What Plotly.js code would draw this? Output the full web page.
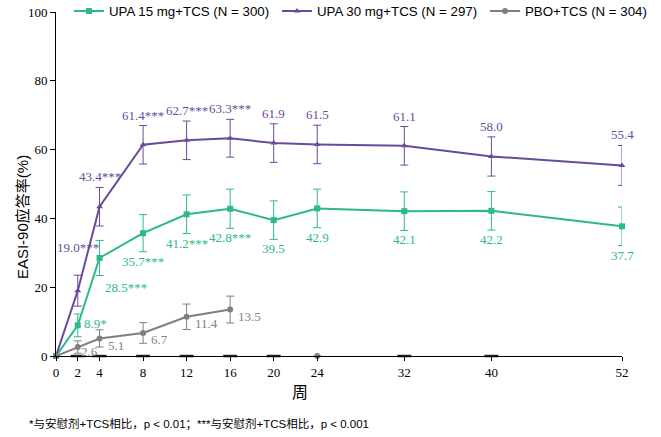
<!DOCTYPE html>
<html>
<head>
<meta charset="utf-8">
<script src="https://cdn.plot.ly/plotly-3.0.1.min.js"></script>
<style>html,body{margin:0;padding:0;background:#fff;}#chart{width:661px;height:437px;}</style>
</head>
<body>
<div id="chart"></div>
<script>
const weeks = [0, 2, 4, 8, 12, 16, 20, 24, 32, 40, 52];
const upa15 = [0, 8.9, 28.5, 35.7, 41.2, 42.8, 39.5, 42.9, 42.1, 42.2, 37.7];
const upa15Err = [0, 3.3, 5.1, 5.4, 5.6, 5.7, 5.6, 5.6, 5.6, 5.6, 5.6];
const upa15Labels = ["", "8.9*", "28.5***", "35.7***", "41.2***", "42.8***", "39.5", "42.9", "42.1", "42.2", "37.7"];
const upa30 = [0, 19.0, 43.4, 61.4, 62.7, 63.3, 61.9, 61.5, 61.1, 58.0, 55.4];
const upa30Err = [0, 4.5, 5.6, 5.6, 5.6, 5.5, 5.6, 5.6, 5.6, 5.7, 5.8];
const upa30Labels = ["", "19.0***", "43.4***", "61.4***", "62.7***", "63.3***", "61.9", "61.5", "61.1", "58.0", "55.4"];
const pboWeeks = [0, 2, 4, 8, 12, 16, 20, 24];
const pbo = [0, 2.6, 5.1, 6.7, 11.4, 13.5, null, 0];
const pboErr = [0, 1.8, 2.5, 3.0, 3.7, 3.9, 0, 0];
const pboLabels = ["", "2.6", "5.1", "6.7", "11.4", "13.5", "", ""];
const baselineMarkWeeks = [2, 4, 8, 12, 16, 20, 32, 40];
const baselineMarkValues = [0, 0, 0, 0, 0, 0, 0, 0];
const seriesNames = ["UPA 15 mg+TCS (N = 300)", "UPA 30 mg+TCS (N = 297)", "PBO+TCS (N = 304)"];
const xTicks = [0, 2, 4, 8, 12, 16, 20, 24, 32, 40, 52];
const yTicks = [0, 20, 40, 60, 80, 100];

const cGreen = "#2db98a", cPurple = "#6a4a9c", cGrey = "#7f7f7f";
const serif = "Liberation Serif, Times New Roman, serif";
const sans = "Liberation Sans, Arial, Noto Sans CJK SC, sans-serif";

function errBar(arr, color) {
  return {type: "data", array: arr, visible: true, color: color, thickness: 1, width: 4};
}

const traces = [
  {x: baselineMarkWeeks, y: baselineMarkValues, mode: "markers", type: "scatter", showlegend: false,
   marker: {symbol: "line-ew", size: 10, line: {color: "#222", width: 2.5}}, cliponaxis: false, hoverinfo: "skip"},
  {x: weeks, y: upa15, name: seriesNames[0], mode: "lines+markers", type: "scatter", legend: "legend",
   line: {color: cGreen, width: 2}, marker: {symbol: "square", size: 6, color: cGreen},
   error_y: errBar(upa15Err, cGreen), cliponaxis: false},
  {x: weeks, y: upa30, name: seriesNames[1], mode: "lines+markers", type: "scatter", legend: "legend2",
   line: {color: cPurple, width: 2}, marker: {symbol: "triangle-up", size: 6, color: cPurple},
   error_y: errBar(upa30Err, cPurple), cliponaxis: false},
  {x: pboWeeks, y: pbo, name: seriesNames[2], mode: "lines+markers", type: "scatter", legend: "legend3",
   connectgaps: false,
   line: {color: cGrey, width: 2}, marker: {symbol: "circle", size: 6, color: cGrey},
   error_y: errBar(pboErr, cGrey), cliponaxis: false}
];

const annotations = [];
// UPA 30 labels above error bars
weeks.forEach((w, i) => {
  if (!upa30Labels[i]) return;
  annotations.push({x: w, y: upa30[i] + upa30Err[i], xref: "x", yref: "y", text: upa30Labels[i],
    showarrow: false, xanchor: "center", yanchor: "bottom", yshift: i === 1 ? 18 : 1,
    font: {family: serif, size: 13, color: cPurple}});
});
// UPA 15 labels below error bars
weeks.forEach((w, i) => {
  if (!upa15Labels[i]) return;
  let a = {x: w, y: upa15[i] - upa15Err[i], xref: "x", yref: "y", text: upa15Labels[i],
    showarrow: false, xanchor: "center", yanchor: "top", yshift: 0,
    font: {family: serif, size: 13, color: cGreen}};
  if (i === 1) { a.y = upa15[i]; a.xanchor = "left"; a.yanchor = "middle"; a.xshift = 4; a.yshift = 2; }
  if (i === 2) { a.xshift = 26; a.yshift = -2; }
  annotations.push(a);
});
// PBO labels right of points
pboWeeks.forEach((w, i) => {
  if (!pboLabels[i]) return;
  annotations.push({x: w, y: pbo[i], xref: "x", yref: "y", text: pboLabels[i],
    showarrow: false, xanchor: "left", yanchor: "middle", xshift: i === 1 ? 1 : 6, yshift: i === 1 ? -4 : -7,
    font: {family: serif, size: 13, color: "#80808f"}});
});
// axis titles and footnote
annotations.push({xref: "paper", yref: "paper", x: -0.060, y: 0.404, text: "EASI-90应答率(%)", textangle: -90,
  showarrow: false, xanchor: "center", yanchor: "middle", font: {family: sans, size: 15, color: "#000"}});
annotations.push({xref: "paper", yref: "paper", x: (300 - 56) / 566, y: -0.075, text: "周", showarrow: false,
  xanchor: "center", yanchor: "top", font: {family: sans, size: 16, color: "#000"}});
annotations.push({xref: "paper", yref: "paper", x: (27 - 56) / 566, y: -0.172, text: "*与安慰剂+TCS相比，p < 0.01；***与安慰剂+TCS相比，p < 0.001",
  showarrow: false, xanchor: "left", yanchor: "top", font: {family: sans, size: 11.5, color: "#000"}});

function legendAt(xpx) {
  return {orientation: "h", xref: "container", yref: "paper", x: xpx / 661, y: 1.047, xanchor: "left", yanchor: "top",
    font: {family: sans, size: 13.3, color: "#000"}, itemwidth: 30, bgcolor: "rgba(0,0,0,0)"};
}

const layout = {
  width: 661, height: 437,
  margin: {l: 56, r: 39, t: 12, b: 81, autoexpand: false},
  paper_bgcolor: "#fff", plot_bgcolor: "#fff",
  showlegend: true,
  legend: legendAt(69),
  legend2: legendAt(277),
  legend3: legendAt(485),
  xaxis: {range: [0, 52], tickvals: xTicks, ticktext: xTicks.map(String), showgrid: false, zeroline: false,
    showline: true, linecolor: "#000", linewidth: 1, ticks: "outside", ticklen: 4, tickcolor: "#000",
    tickfont: {family: serif, size: 13, color: "#000"}, fixedrange: true},
  yaxis: {range: [0, 100], tickvals: yTicks, ticktext: yTicks.map(String), showgrid: false, zeroline: false,
    showline: true, linecolor: "#000", linewidth: 1, ticks: "outside", ticklen: 5, tickcolor: "#000",
    tickfont: {family: serif, size: 13, color: "#000"}, fixedrange: true},
  annotations: annotations
};

Plotly.newPlot("chart", traces, layout, {displayModeBar: false, staticPlot: true});
</script>
</body>
</html>
